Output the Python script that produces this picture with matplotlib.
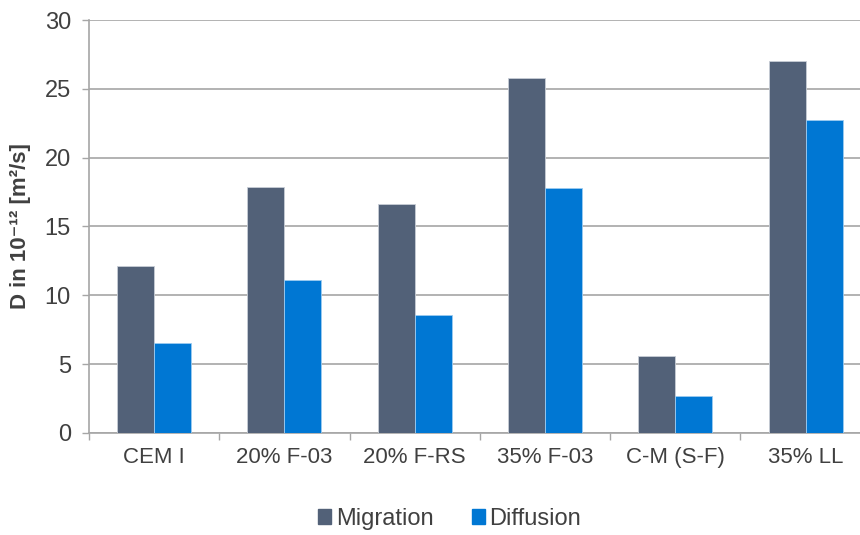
import numpy as np
import matplotlib
matplotlib.use('Agg')
import matplotlib.pyplot as plt
from matplotlib.patches import Patch

plt.rcParams['font.family'] = ['Liberation Sans', 'DejaVu Sans']

# Daten
categories = ['CEM I', '20% F-03', '20% F-RS', '35% F-03', 'C-M (S-F)', '35% LL']
migration = [12.1, 17.9, 16.6, 25.8, 5.6, 27.0]
diffusion = [6.5, 11.1, 8.6, 17.8, 2.7, 22.7]
series_names = ['Migration', 'Diffusion']
yticks = [0, 5, 10, 15, 20, 25, 30]

c_mig = '#526178'
c_dif = '#0077D3'
txt = '#404040'
grid_c = '#A6A6A6'

fig = plt.figure(figsize=(8.6, 5.35), dpi=100)
ax = fig.add_axes([0.1035, 0.1907, 0.909, 0.7719])

x = np.arange(len(categories))
w = 0.284
ax.bar(x - w / 2, migration, w, color=c_mig, edgecolor='#C8CDD6', linewidth=0.6, zorder=3)
ax.bar(x + w / 2, diffusion, w, color=c_dif, edgecolor='#9CCBF0', linewidth=0.6, zorder=3)

ax.set_xlim(-0.5, len(categories) - 0.5)
ax.set_ylim(0, 30)
ax.set_yticks(yticks)
ax.yaxis.grid(True, color=grid_c, linewidth=1.2, zorder=0)
ax.set_axisbelow(True)

# x-Ticks an den Kategoriegrenzen
ax.set_xticks(np.arange(len(categories) + 1) - 0.5)
ax.set_xticklabels([])
ax.set_xticks(x, minor=True)
ax.set_xticklabels(categories, minor=True)
ax.tick_params(axis='x', which='minor', length=0, pad=10, labelsize=16, labelcolor=txt)
ax.tick_params(axis='x', which='major', length=5, width=1, color=grid_c)
ax.tick_params(axis='y', length=5, width=1, color=grid_c, pad=8, labelsize=17, labelcolor=txt)

for s in ['top', 'right']:
    ax.spines[s].set_visible(False)
for s in ['left', 'bottom']:
    ax.spines[s].set_color(grid_c)
    ax.spines[s].set_linewidth(1.2)

ax.set_ylabel('D in 10⁻¹² [m²/s]', fontsize=16, fontweight='bold', color=txt, labelpad=10)

handles = [Patch(color=c_mig), Patch(color=c_dif)]
fig.legend(handles, series_names, loc='lower center', bbox_to_anchor=(0.523, -0.03), ncol=2,
           frameon=False, fontsize=17, handlelength=0.55, handleheight=0.55,
           handletextpad=0.2, columnspacing=1.6, labelcolor=txt)

fig.savefig('out.png', dpi=100)
